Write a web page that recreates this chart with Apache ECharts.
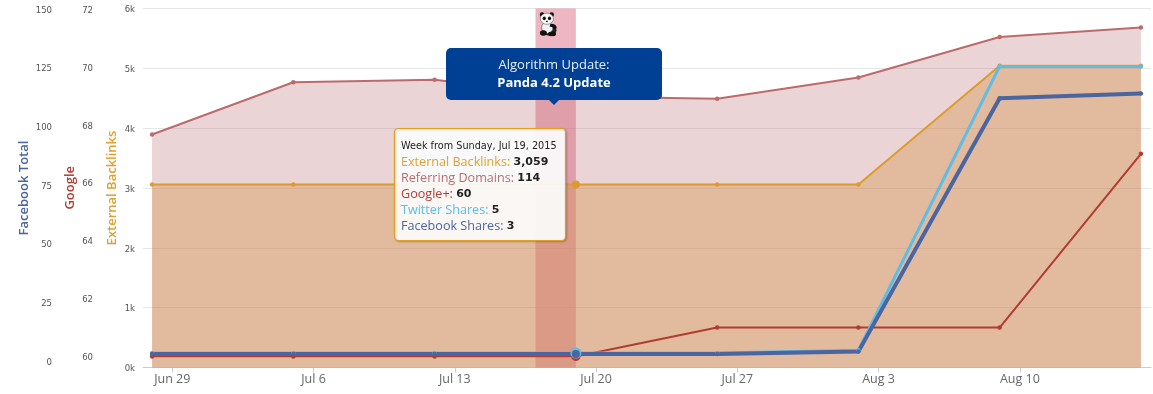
<!DOCTYPE html>
<html><head><meta charset="utf-8">
<style>html,body{margin:0;padding:0;background:#fff}#c{width:1153px;height:394px}</style>
<script src="https://cdn.jsdelivr.net/npm/echarts@6/dist/echarts.min.js"></script>
</head><body><div id="c"></div>
<script>
// days counted from Jun 29, 2015
const weekDays = [-1, 6, 13, 20, 27, 34, 41, 48];
const tickDays = [0, 7, 14, 21, 28, 35, 42];
const tickLabels = ['Jun 29', 'Jul 6', 'Jul 13', 'Jul 20', 'Jul 27', 'Aug 3', 'Aug 10'];
const externalBacklinks = [3059, 3059, 3059, 3059, 3059, 3059, 5045, 5045];
const referringDomains = [98, 120, 121, 114, 113, 122, 139, 143];
const googlePlus = [60, 60, 60, 60, 61, 61, 61, 67];
const twitterShares = [5, 5, 5, 5, 5, 6, 104, 104];
const facebookShares = [3, 3, 3, 3, 3, 4, 112, 114];
const pandaBandDays = [18, 20];
const pandaIconAt = [18.65, 5740];
const activeIndex = 3;
const activeWeekLabel = 'Week from Sunday, Jul 19, 2015';

const C = {ext:'#dd9a2f', ref:'#bb6b6d', goo:'#b23c34', twi:'#5cbde6', fb:'#4a659f'};
const pts = a => a.map((v,i)=>[weekDays[i], v]);
const pandaSvg = "<svg xmlns='http://www.w3.org/2000/svg' width='48' height='56' viewBox='0 0 24 28'>"+
 "<ellipse cx='13' cy='21' rx='8' ry='6' fill='#222'/><ellipse cx='10.5' cy='18' rx='6.5' ry='6.5' fill='#f2f2f2' stroke='#333' stroke-width='.6'/>"+
 "<path d='M14 14 C19 13 22 16 21 19 L17 19 C17 17 15 17 13 17Z' fill='#111'/><ellipse cx='6' cy='24' rx='4' ry='3' fill='#111'/><ellipse cx='16' cy='25' rx='4.5' ry='2.6' fill='#111'/>"+
 "<circle cx='4.5' cy='3.5' r='2.6' fill='#111'/><circle cx='15.5' cy='3.5' r='2.6' fill='#111'/><ellipse cx='10' cy='8' rx='7.5' ry='6.3' fill='#fafafa' stroke='#444' stroke-width='.6'/>"+
 "<ellipse cx='7' cy='7.6' rx='1.8' ry='2.2' fill='#111'/><ellipse cx='13' cy='7.6' rx='1.8' ry='2.2' fill='#111'/><ellipse cx='10' cy='11' rx='1.2' ry='.8' fill='#111'/></svg>";

const G = (top,bottom)=>({left:143, right:2, top:top, height:bottom-top, containLabel:false});
const X = (i)=>({type:'value', gridIndex:i, min:-1.45, max:48.5, show:i===0, splitLine:{show:false},
  axisLine:{show:true, onZero:false, lineStyle:{color:'#c0d0e0'}},
  axisTick:{show:true, length:5, lineStyle:{color:'#c0d0e0'}, customValues:tickDays},
  axisLabel:{show:true, customValues:tickDays, margin:5, fontFamily:'Open Sans', fontSize:12.5, color:'#666',
    formatter:v=>tickLabels[tickDays.indexOf(v)] || ''}});
const tickStyle = {fontFamily:'DejaVu Sans', fontSize:8.5, color:'#555', verticalAlign:'top', lineHeight:3, margin:8};
const nameStyle = (c,pr)=>({color:c, fontFamily:'Open Sans', fontWeight:600, fontSize:13, padding:[0,pr,0,0]});
const Y = (o)=>Object.assign({type:'value', axisLine:{show:false}, axisTick:{show:false}, splitLine:{show:false},
  nameLocation:'middle', nameRotate:90, nameMoveOverlap:false, axisLabel:tickStyle}, o);

const option = {
  animation:false, backgroundColor:'#fff',
  grid:[G(8.5,367.5), G(9,356.5), G(9,361)],
  xAxis:[X(0),X(1),X(2)],
  yAxis:[
    Y({gridIndex:0, min:0, max:6000, interval:1000, name:'External Backlinks', nameGap:24, nameTextStyle:nameStyle('#e0a030',0),
       splitLine:{show:true, lineStyle:{color:'#e6e6e6'}},
       axisLabel:Object.assign({},tickStyle,{formatter:v=>(v/1000)+'k'})}),
    Y({gridIndex:1, min:60, max:72, interval:2, offset:42, name:'Google', nameGap:24, nameTextStyle:nameStyle('#b23c34',10)}),
    Y({gridIndex:2, min:0, max:150, interval:25, offset:83, name:'Facebook Total', nameGap:29, nameTextStyle:nameStyle('#4a659f',6)}),
    Y({gridIndex:0, min:0, max:151, show:false}),
    Y({gridIndex:0, min:0, max:124, show:false})
  ],
  series:[
    {name:'Referring Domains', type:'line', xAxisIndex:0, yAxisIndex:3, data:pts(referringDomains), symbol:'circle', symbolSize:4.5, showSymbol:true,
     lineStyle:{color:C.ref,width:2}, itemStyle:{color:C.ref}, areaStyle:{color:'rgba(187,107,109,0.29)',opacity:1},
     markArea:{silent:true, itemStyle:{color:'rgba(220,100,130,0.48)'}, data:[[{xAxis:pandaBandDays[0]},{xAxis:pandaBandDays[1]}]]}},
    {name:'External Backlinks', type:'line', xAxisIndex:0, yAxisIndex:0, data:pts(externalBacklinks), symbol:'circle',
     symbolSize:(v,p)=>p.dataIndex===activeIndex?8:4.5, lineStyle:{color:C.ext,width:2}, itemStyle:{color:C.ext},
     areaStyle:{color:'rgba(214,148,80,0.41)',opacity:1},
     markPoint:{silent:true, symbol:'image://data:image/svg+xml;charset=utf-8,'+encodeURIComponent(pandaSvg), symbolSize:[21,25],
       data:[{coord:pandaIconAt}], label:{show:false}}},
    {name:'Google+', type:'line', xAxisIndex:1, yAxisIndex:1, data:pts(googlePlus), symbol:'circle',
     symbolSize:(v,p)=>p.dataIndex===activeIndex?9:4.5, lineStyle:{color:C.goo,width:2}, itemStyle:{color:C.goo}},
    {name:'Twitter Shares', type:'line', xAxisIndex:0, yAxisIndex:4, data:pts(twitterShares), symbol:'circle',
     symbolSize:(v,p)=>p.dataIndex===activeIndex?11:4.5, lineStyle:{color:C.twi,width:3}, itemStyle:{color:C.twi}},
    {name:'Facebook Shares', type:'line', xAxisIndex:2, yAxisIndex:2, data:pts(facebookShares), symbol:'circle',
     symbolSize:(v,p)=>p.dataIndex===activeIndex?8:4.5, lineStyle:{color:C.fb,width:4}, itemStyle:{color:C.fb}}
  ],
  graphic:[]
};

const rowFont = {fontFamily:'Open Sans', fontSize:12.6, lineHeight:16};
const valFont = {fontFamily:'DejaVu Sans', fontSize:11, lineHeight:16};
const row = (y,label,color,val)=>({type:'text', z:101, x:401, y:y, style:{
  rich:{a:Object.assign({fill:color},rowFont), b:Object.assign({fill:'#222',fontWeight:'bold'},valFont)},
  text:'{a|'+label+': }{b|'+val+'}', verticalAlign:'middle'}});
option.graphic = [
  {type:'rect', z:100, shape:{x:394.5,y:128.5,width:171,height:112,r:4},
   style:{fill:'rgba(255,255,255,0.92)', stroke:'#e0a020', lineWidth:1.2, shadowBlur:2, shadowOffsetX:1, shadowOffsetY:1, shadowColor:'rgba(0,0,0,0.2)'}},
  {type:'text', z:101, x:401, y:146, style:{text:activeWeekLabel, fontFamily:'DejaVu Sans', fontSize:9.7, fill:'#222', verticalAlign:'middle'}},
  row(162,'External Backlinks','#e0a030',externalBacklinks[activeIndex].toLocaleString('en-US')),
  row(178,'Referring Domains','#bb6b6d',referringDomains[activeIndex]),
  row(194,'Google+','#b23c34',googlePlus[activeIndex]),
  row(210,'Twitter Shares','#5cbde6',twitterShares[activeIndex]),
  row(226,'Facebook Shares','#4a659f',facebookShares[activeIndex]),
  {type:'rect', z:102, shape:{x:446,y:48,width:216,height:52,r:5}, style:{fill:'#004094'}},
  {type:'polygon', z:102, shape:{points:[[549,100],[559,100],[554,105]]}, style:{fill:'#004094'}},
  {type:'text', z:103, x:554, y:65, style:{text:'Algorithm Update:', fontFamily:'Open Sans', fontSize:13, fill:'#e8eef8', align:'center', verticalAlign:'middle'}},
  {type:'text', z:103, x:554, y:83, style:{text:'Panda 4.2 Update', fontFamily:'Open Sans', fontWeight:'bold', fontSize:13, fill:'#fff', align:'center', verticalAlign:'middle'}}
];
echarts.init(document.getElementById('c'),null,{renderer:'canvas'}).setOption(option);
</script></body></html>
